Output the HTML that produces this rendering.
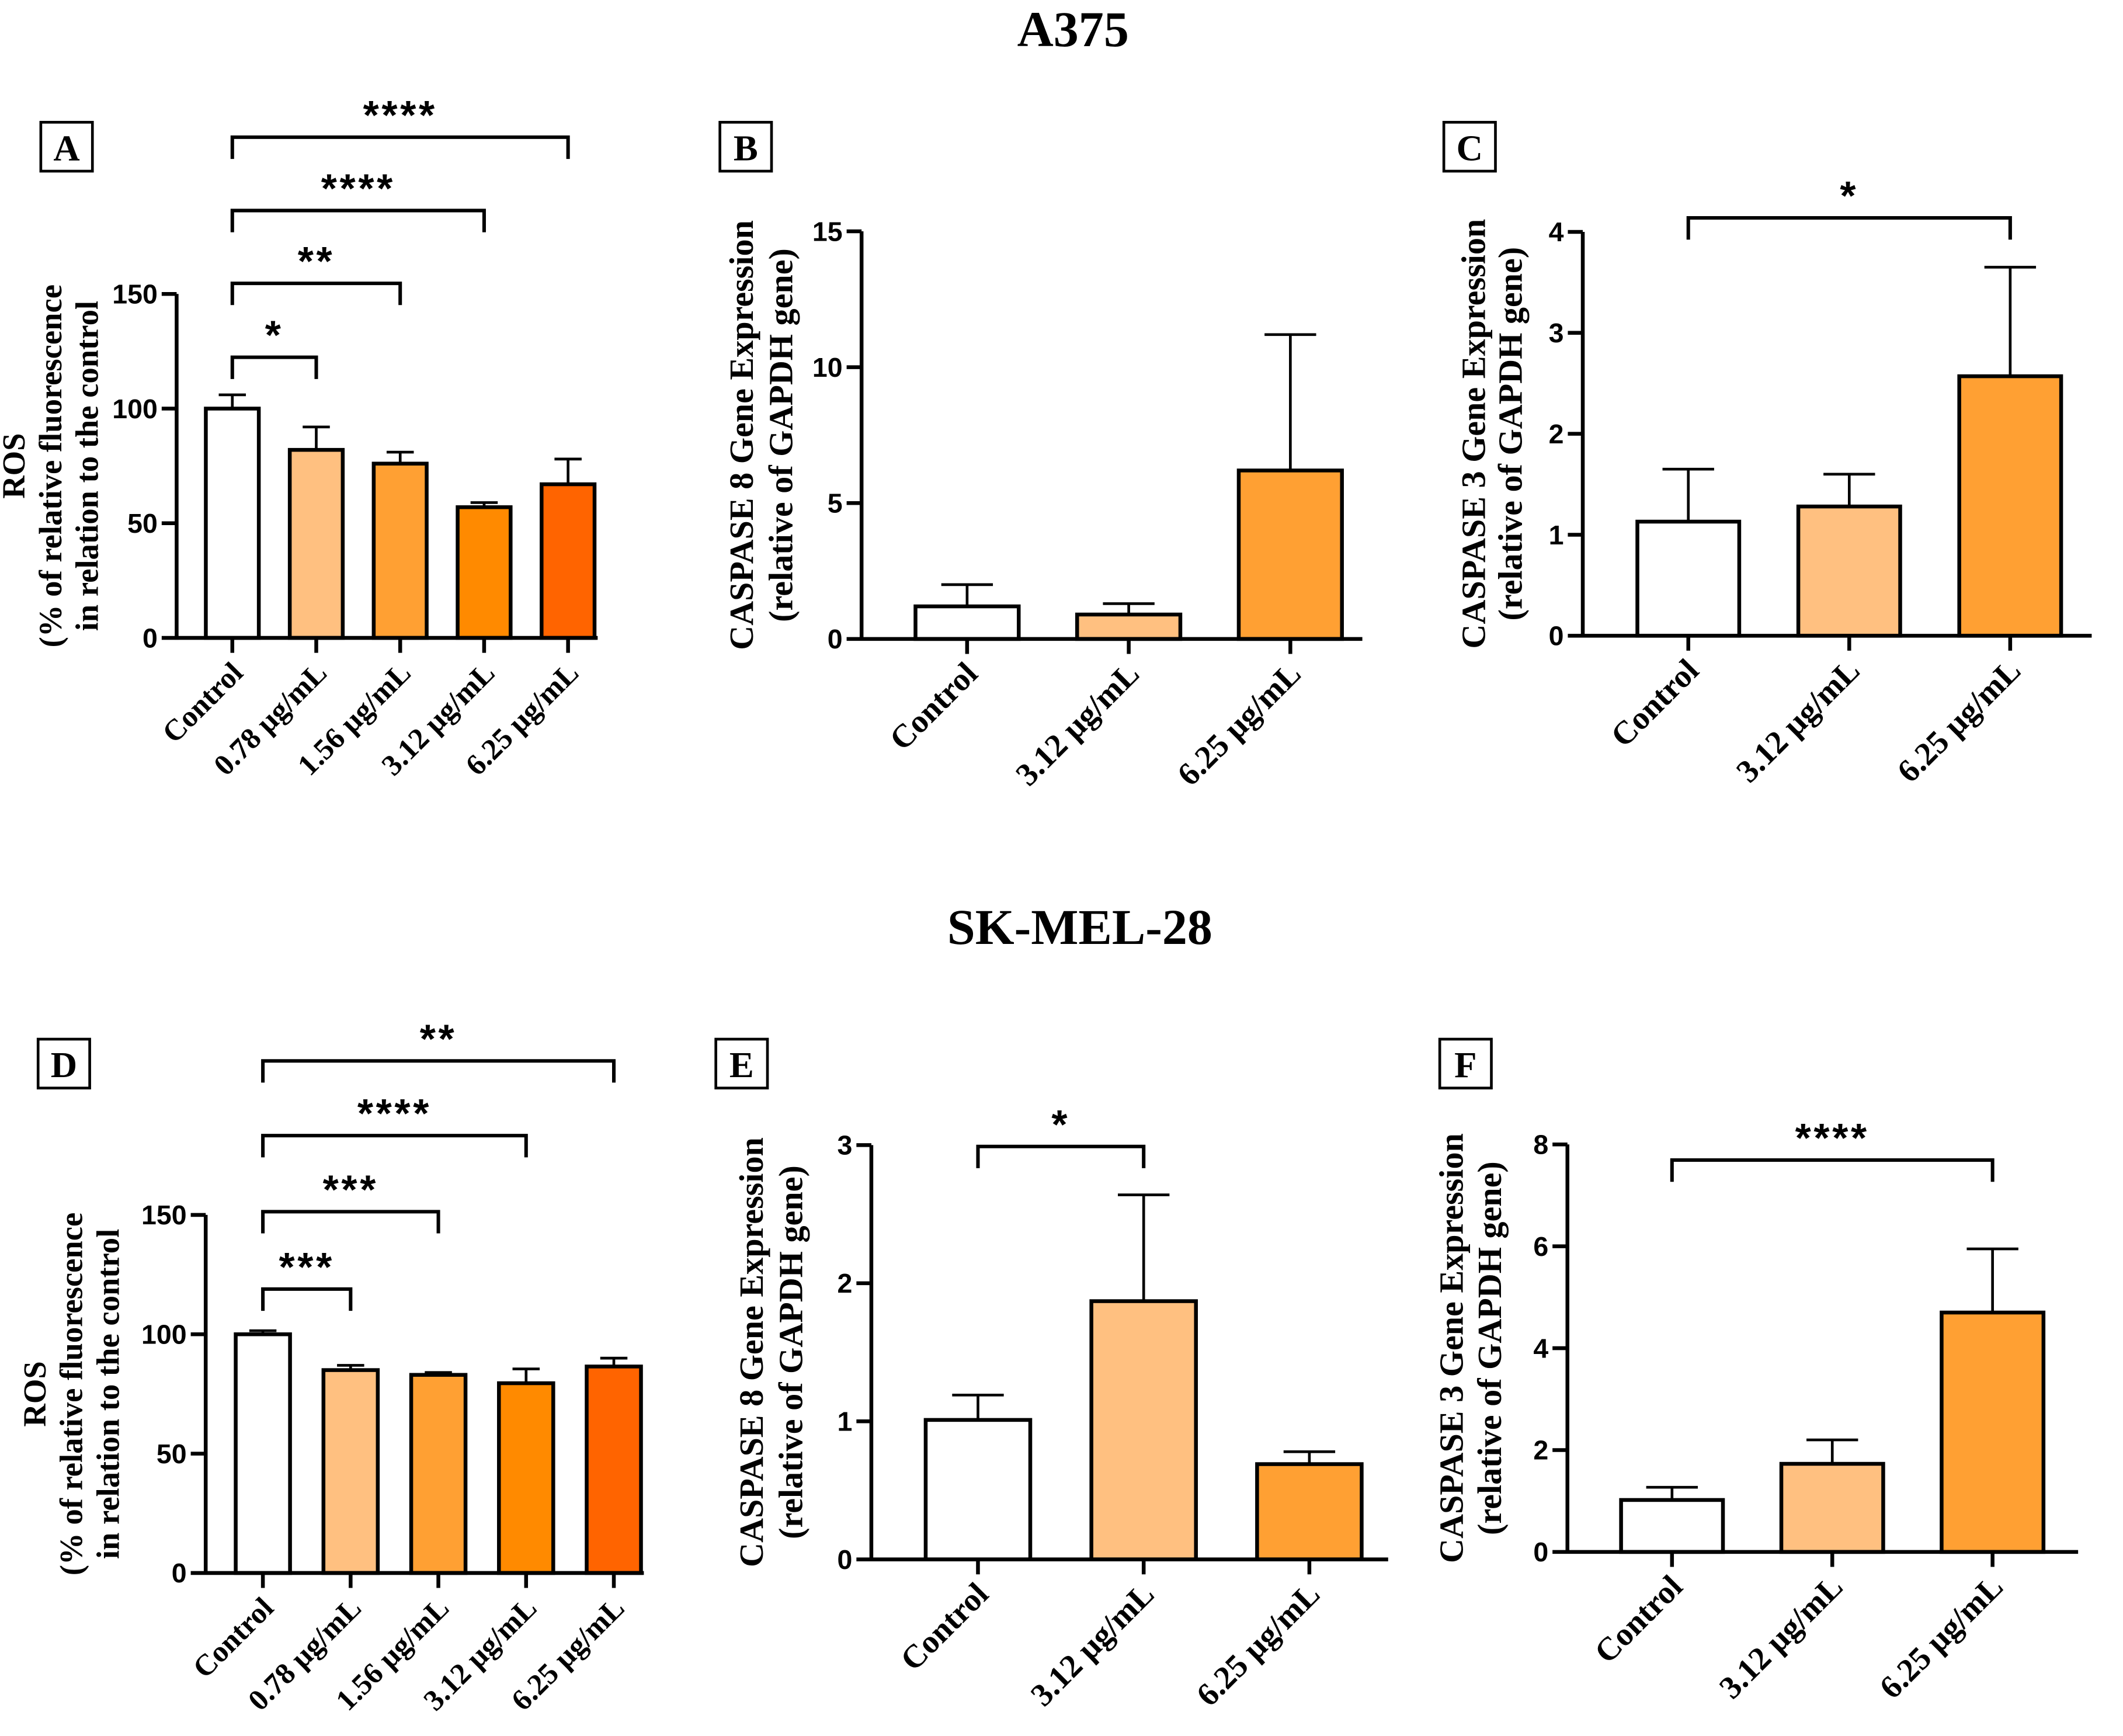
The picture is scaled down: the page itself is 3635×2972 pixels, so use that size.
<!DOCTYPE html>
<html><head><meta charset="utf-8"><style>
html,body{margin:0;padding:0;background:#fff}
svg{display:block}
.t{font-family:"Liberation Serif",serif;font-weight:bold}
.n{font-family:"Liberation Sans",sans-serif;font-weight:bold}
</style></head><body>
<svg id="fig" width="3635" height="2972" viewBox="0 0 1563 1278" xmlns="http://www.w3.org/2000/svg">
<text class="t" x="790" y="34" font-size="37" text-anchor="middle">A375</text>
<text class="t" x="795" y="695" font-size="37" text-anchor="middle">SK-MEL-28</text>
</svg>
<script>
const catsROS=["Control","0.78 µg/mL","1.56 µg/mL","3.12 µg/mL","6.25 µg/mL"];
const cats3=["Control","3.12 µg/mL","6.25 µg/mL"];
const aVals=[100,82,76,57,67], aErr=[106,92,81,59,78];
const bVals=[1.2,0.9,6.2], bErr=[2.0,1.3,11.2];
const cVals=[1.13,1.28,2.57], cErr=[1.65,1.6,3.65];
const dVals=[100,85,83,79.5,86.5], dErr=[101.5,87,84,85.5,90];
const eVals=[1.01,1.87,0.69], eErr=[1.19,2.64,0.78];
const fVals=[1.02,1.73,4.7], fErr=[1.27,2.2,5.95];
const aTicks=[0,50,100,150], bTicks=[0,5,10,15], cTicks=[0,1,2,3,4];
const dTicks=[0,50,100,150], eTicks=[0,1,2,3], fTicks=[0,2,4,6,8];
const colors5=["#ffffff","#ffc080","#ffa033","#ff8a00","#ff6400"];
const colors3=["#ffffff","#ffc080","#ffa033"];
const svg=document.getElementById('fig');
const NS="http://www.w3.org/2000/svg";
function mk(tag,attrs,name,parent){const e=document.createElementNS(NS,tag);for(const k in attrs)e.setAttribute(k,attrs[k]);


(parent||svg).appendChild(e);return e;}
function panel(p){
 const g=mk('g',{},'panel-'+p.id);
 const y=v=>p.y0-(v/p.max)*(p.y0-p.ytop);
 const x=i=>p.c0+i*p.step;
 mk('rect',{x:p.lx,y:p.ly,width:38,height:36,fill:'#fff',stroke:'#000','stroke-width':2},'panel-label-box-'+p.id,g);
 const lt=mk('text',{x:p.lx+19,y:p.ly+28,'font-size':27,'text-anchor':'middle',class:'t'},'panel-label-'+p.id,g);lt.textContent=p.id;
 p.vals.forEach((v,i)=>{
  mk('line',{x1:x(i),x2:x(i),y1:y(v),y2:y(p.err[i]),stroke:'#000','stroke-width':2},'error-bar-'+p.id+i,g);
  mk('line',{x1:x(i)-p.cap,x2:x(i)+p.cap,y1:y(p.err[i]),y2:y(p.err[i]),stroke:'#000','stroke-width':2},'error-cap-'+p.id+i,g);
  mk('rect',{x:x(i)-p.bw/2,y:y(v),width:p.bw,height:p.y0-y(v),fill:p.colors[i],stroke:'#000','stroke-width':2.8},'bar-'+p.id+i,g);
 });
 mk('line',{x1:p.ax,x2:p.ax,y1:p.ytop,y2:p.y0+1.3,stroke:'#000','stroke-width':2.8},'y-axis-'+p.id,g);
 mk('line',{x1:p.ax,x2:p.xend,y1:p.y0,y2:p.y0,stroke:'#000','stroke-width':2.8},'x-axis-'+p.id,g);
 p.ticks.forEach(t=>{
  mk('line',{x1:p.ax-11,x2:p.ax,y1:y(t),y2:y(t),stroke:'#000','stroke-width':2.8},'y-tick-'+p.id,g);
  const tt=mk('text',{x:p.ax-14,y:y(t)+7,'font-size':20,'text-anchor':'end',class:'n'},'y-tick-label-'+p.id,g);tt.textContent=t;
 });
 p.cats.forEach((c,i)=>{
  mk('line',{x1:x(i),x2:x(i),y1:p.y0,y2:p.y0+11,stroke:'#000','stroke-width':2.8},'x-tick-'+p.id,g);
  const tx=x(i)+9, ty=p.y0+27;
  const tt=mk('text',{x:tx,y:ty,'font-size':p.xfs,'text-anchor':'end',class:'t',transform:`rotate(-45 ${tx} ${ty})`},'x-tick-label-'+p.id,g);tt.textContent=c;
 });
 const cy=(p.ytop+p.y0)/2+p.tyOff;
 p.ytitle.forEach((s,k)=>{
  const tx=p.ax+p.tx[k];
  const tt=mk('text',{x:tx,y:cy,'font-size':p.tfs,'text-anchor':'middle',class:'t',transform:`rotate(-90 ${tx} ${cy})`},'y-axis-title-'+p.id,g);tt.textContent=s;
 });
 (p.br||[]).forEach((b,k)=>{
  mk('path',{d:`M${x(b[0])},${b[2]+16} V${b[2]} H${x(b[1])} V${b[2]+16}`,fill:'none',stroke:'#000','stroke-width':2.6},'significance-bracket-'+p.id+k,g);
  const tt=mk('text',{x:(x(b[0])+x(b[1]))/2,y:b[2]-6,'font-size':30,'text-anchor':'middle',class:'n','letter-spacing':2},'significance-stars-'+p.id+k,g);tt.textContent=b[3];
 });
}
panel({id:'A',vals:aVals,err:aErr,ticks:aTicks,max:150,cats:catsROS,colors:colors5,ax:130,y0:469.6,ytop:216.4,c0:171,step:61.8,bw:39,cap:10,xend:440,lx:30,ly:90,xfs:22,tfs:23.5,
 ytitle:["ROS","(% of relative fluorescence","in relation to the control"],tx:[-112,-85,-58],tyOff:0,
 br:[[0,1,263,"*"],[0,2,208.6,"**"],[0,3,155,"****"],[0,4,101,"****"]]});
panel({id:'B',vals:bVals,err:bErr,ticks:bTicks,max:15,cats:cats3,colors:colors3,ax:634.3,y0:470.4,ytop:170.3,c0:712,step:119,bw:76,cap:19,xend:1003,lx:530,ly:90,xfs:24,tfs:25,
 ytitle:["CASPASE 8 Gene Expression","(relative of GAPDH gene)"],tx:[-80,-51],tyOff:0});
panel({id:'C',vals:cVals,err:cErr,ticks:cTicks,max:4,cats:cats3,colors:colors3,ax:1165.3,y0:468,ytop:170.7,c0:1243,step:118.5,bw:75,cap:19,xend:1540,lx:1063,ly:90,xfs:24,tfs:25,
 ytitle:["CASPASE 3 Gene Expression","(relative of GAPDH gene)"],tx:[-72,-45],tyOff:0,
 br:[[0,2,160.4,"*"]]});
panel({id:'D',vals:dVals,err:dErr,ticks:dTicks,max:150,cats:catsROS,colors:colors5,ax:151.4,y0:1158,ytop:894.4,c0:193.5,step:64.6,bw:40,cap:10,xend:474,lx:28,ly:765,xfs:22,tfs:23.5,
 ytitle:["ROS","(% of relative fluorescence","in relation to the control"],tx:[-118,-91,-64],tyOff:0,
 br:[[0,1,949,"***"],[0,2,892,"***"],[0,3,836,"****"],[0,4,781,"**"]]});
panel({id:'E',vals:eVals,err:eErr,ticks:eTicks,max:3,cats:cats3,colors:colors3,ax:641.5,y0:1148,ytop:843,c0:720,step:122,bw:77,cap:19,xend:1022,lx:527,ly:765,xfs:24,tfs:25,
 ytitle:["CASPASE 8 Gene Expression","(relative of GAPDH gene)"],tx:[-80,-51],tyOff:0,
 br:[[0,1,844,"*"]]});
panel({id:'F',vals:fVals,err:fErr,ticks:fTicks,max:8,cats:cats3,colors:colors3,ax:1154,y0:1142.5,ytop:842.5,c0:1231,step:118,bw:75,cap:19,xend:1530,lx:1060,ly:765,xfs:24,tfs:25,
 ytitle:["CASPASE 3 Gene Expression","(relative of GAPDH gene)"],tx:[-77,-49],tyOff:0,
 br:[[0,2,854,"****"]]});
</script>
</body></html>
